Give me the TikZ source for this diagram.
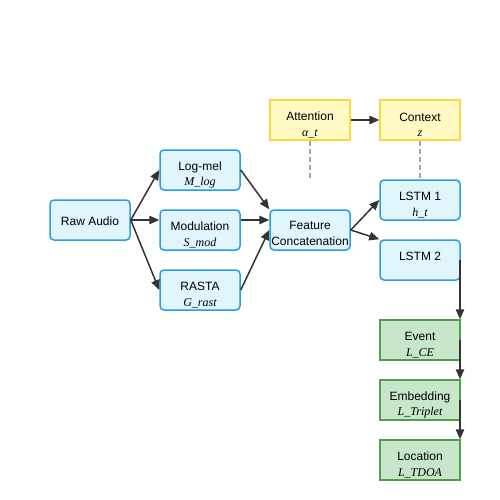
\documentclass[tikz,border=0pt]{standalone}
\usepackage{fontspec}
\setmainfont{Liberation Sans}
\newfontfamily\serifit{Liberation Serif}[ItalicFont={Liberation Serif Italic}]
\usetikzlibrary{arrows.meta}
\definecolor{bfill}{HTML}{E1F5FE}
\definecolor{bline}{HTML}{2A9FD8}
\definecolor{yfill}{HTML}{FFF9C4}
\definecolor{yline}{HTML}{FBD83A}
\definecolor{gfill}{HTML}{C8E6C9}
\definecolor{gline}{HTML}{4E9E4A}
\definecolor{arr}{HTML}{333333}
\tikzset{
  box/.style={minimum width=80pt, minimum height=40pt, line width=1.5pt, inner sep=0pt},
  bluebox/.style={box, draw=bline, fill=bfill, rounded corners=4pt},
  yelbox/.style={box, draw=yline, fill=yfill},
  grnbox/.style={box, draw=gline, fill=gfill},
  txt/.style={inner sep=0pt, align=center, font=\fontsize{12pt}{15.5pt}\selectfont},
  conn/.style={draw=arr, line width=1.5pt, -{Triangle[length=10pt,width=8.5pt]}},
  dashconn/.style={draw=black!35, line width=1.8pt, dash pattern=on 5pt off 3pt},
}
\newcommand{\sub}[1]{{\serifit\itshape #1}}
\begin{document}
\begin{tikzpicture}[x=1pt,y=-1pt]
\useasboundingbox (0,0) rectangle (500,500);
\node[bluebox] (raw) at (90,220) {};
\node[bluebox] (logmel) at (200,170) {};
\node[bluebox] (mod) at (200,230) {};
\node[bluebox] (rasta) at (200,290) {};
\node[bluebox] (feat) at (310,230) {};
\node[yelbox] (att) at (310,120) {};
\node[yelbox] (ctx) at (420,120) {};
\node[bluebox] (l1) at (420,200) {};
\node[bluebox] (l2) at (420,260) {};
\node[grnbox] (ev) at (420,340) {};
\node[grnbox] (emb) at (420,400) {};
\node[grnbox] (loc) at (420,460) {};
% texts
\node[txt] (raw-t) at ([yshift=-1pt]raw.center) {Raw Audio};
\node[txt] (logmel-t) at ([yshift=-5pt]logmel.center) {Log-mel\\\sub{M\_log}};
\node[txt] (mod-t) at ([yshift=-5pt]mod.center) {Modulation\\\sub{S\_mod}};
\node[txt] (rasta-t) at ([yshift=-5pt]rasta.center) {RASTA\\\sub{G\_rast}};
\node[txt] (feat-t) at ([yshift=-3.5pt]feat.center) {Feature\\Concatenation};
\node[txt] (att-t) at ([yshift=-5pt]att.center) {Attention\\\sub{α\_t}};
\node[txt] (ctx-t) at ([yshift=-5pt]ctx.center) {Context\\\sub{z}};
\node[txt] (l1-t) at ([yshift=-5pt]l1.center) {LSTM 1\\\sub{h\_t}};
\node[txt] (l2-t) at ([yshift=4pt]l2.center) {LSTM 2};
\node[txt] (ev-t) at ([yshift=-5pt]ev.center) {Event\\\sub{L\_CE}};
\node[txt] (emb-t) at ([yshift=-5pt]emb.center) {Embedding\\\sub{L\_Triplet}};
\node[txt] (loc-t) at ([yshift=-5pt]loc.center) {Location\\\sub{L\_TDOA}};
% connectors
\coordinate (att-end) at (310,178);
\coordinate (ctx-end) at (420,178);
\draw[dashconn] (att.south) -- (att-end);
\draw[dashconn] (ctx.south) -- (ctx-end);
\draw[conn] (raw.east) -- (logmel.west);
\draw[conn] (raw.east) -- (raw.east -| mod.west);
\draw[conn] (raw.east) -- (rasta.west);
\draw[conn] (logmel.east) -- (feat.north west);
\draw[conn] ([yshift=10pt]mod.east) -- ([yshift=10pt]feat.west);
\draw[conn] (rasta.east) -- (feat.west);
\draw[conn] (feat.east) -- (l1.west);
\draw[conn] (feat.east) -- (l2.north west);
\draw[conn] (att.east) -- (ctx.west);
\draw[conn] ([xshift=-0.75pt]l2.east) -- ([xshift=-0.75pt]ev.north east);
\draw[conn] ([xshift=-0.75pt]ev.east) -- ([xshift=-0.75pt]emb.north east);
\draw[conn] ([xshift=-0.75pt]emb.east) -- ([xshift=-0.75pt]loc.north east);
\end{tikzpicture}
\end{document}
